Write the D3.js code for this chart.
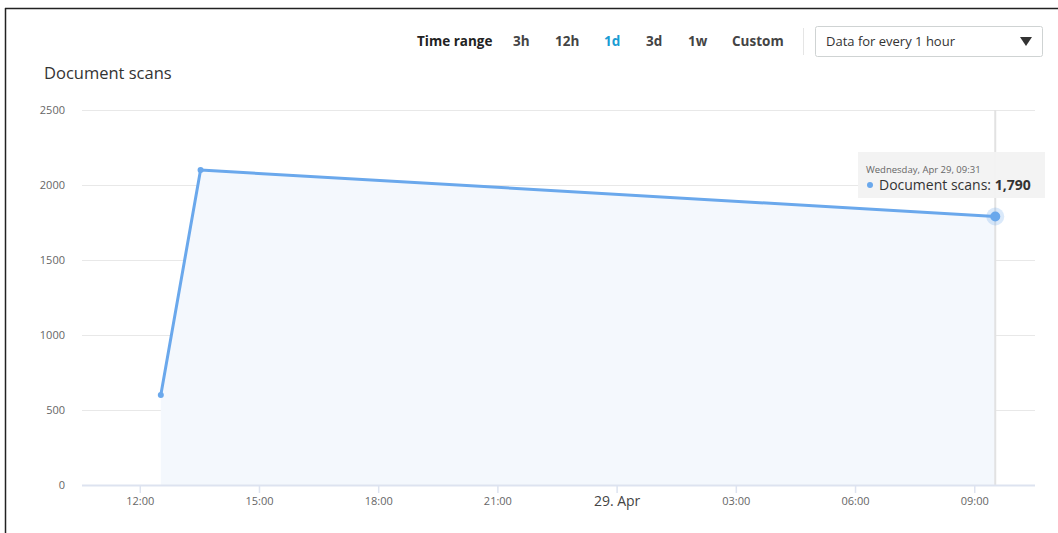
<!DOCTYPE html>
<html>
<head>
<meta charset="utf-8">
<script src="https://cdn.jsdelivr.net/npm/d3@7"></script>
<style>
  html, body { margin: 0; padding: 0; background: #fff; }
  svg { display: block; font-family: "Open Sans", "Noto Sans", sans-serif; }
</style>
</head>
<body>
<svg id="chart" width="1058" height="533"></svg>
<script>
// ---- data ----
const times = ["2020-04-28T12:31", "2020-04-28T13:31", "2020-04-29T09:31"];
const scans = [600, 2100, 1790];
const yTicks = [0, 500, 1000, 1500, 2000, 2500];
const xTickTimes = ["2020-04-28T12:00", "2020-04-28T15:00", "2020-04-28T18:00", "2020-04-28T21:00",
                    "2020-04-29T00:00", "2020-04-29T03:00", "2020-04-29T06:00", "2020-04-29T09:00"];
const xTickLabels = ["12:00", "15:00", "18:00", "21:00", "29. Apr", "03:00", "06:00", "09:00"];
const rangeOptions = ["3h", "12h", "1d", "3d", "1w", "Custom"];
const selectedRange = "1d";
const chartTitle = "Document scans";
const tooltipDate = "Wednesday, Apr 29, 09:31";
const seriesName = "Document scans";

const parse = d3.timeParse("%Y-%m-%dT%H:%M");
const data = times.map((t, i) => ({ t: parse(t), v: scans[i] }));

const svg = d3.select("#chart");

// frame border
svg.append("line").attr("x1", 5).attr("x2", 1058).attr("y1", 8.5).attr("y2", 8.5)
  .attr("stroke", "#222").attr("stroke-width", 1.5);
svg.append("line").attr("x1", 5.5).attr("x2", 5.5).attr("y1", 8).attr("y2", 533)
  .attr("stroke", "#222").attr("stroke-width", 1.5);

// scales
const x = d3.scaleTime()
  .domain([parse("2020-04-28T10:32"), parse("2020-04-29T10:31")])
  .range([82, 1035]);
const y = d3.scaleLinear().domain([0, 2500]).range([485, 110]);

// gridlines
svg.append("g").selectAll("line").data(yTicks.filter(d => d > 0)).join("line")
  .attr("x1", 82).attr("x2", 1035)
  .attr("y1", d => y(d) + 0.5).attr("y2", d => y(d) + 0.5)
  .attr("stroke", "#e8e8e8").attr("stroke-width", 1);

// y labels
svg.append("g").selectAll("text").data(yTicks).join("text")
  .attr("x", 65).attr("y", d => y(d) + 4)
  .attr("text-anchor", "end").attr("font-size", 11).attr("fill", "#666")
  .text(d => d);

// area
const area = d3.area().x(d => x(d.t)).y0(y(0)).y1(d => y(d.v));
svg.append("path").datum(data).attr("d", area).attr("fill", "#f4f8fd");

// crosshair
const last = data[data.length - 1];
svg.append("line").attr("x1", x(last.t)).attr("x2", x(last.t))
  .attr("y1", 110).attr("y2", y(0))
  .attr("stroke", "#e2e2e2").attr("stroke-width", 2);

// x axis
const xAxis = svg.append("g").attr("transform", `translate(0,${y(0)})`);
xAxis.append("line").attr("x1", 82).attr("x2", 1035).attr("y1", 0.5).attr("y2", 0.5)
  .attr("stroke", "#dde3f0").attr("stroke-width", 2);
const xt = xTickTimes.map((t, i) => ({ t: parse(t), label: xTickLabels[i] }));
xAxis.selectAll("line.tick").data(xt).join("line").attr("class", "tick")
  .attr("x1", d => x(d.t)).attr("x2", d => x(d.t)).attr("y1", 0).attr("y2", 8)
  .attr("stroke", "#dde3f0").attr("stroke-width", 1.5);
xAxis.selectAll("text").data(xt).join("text")
  .attr("x", d => x(d.t)).attr("y", d => d.label.includes("Apr") ? 21 : 20)
  .attr("text-anchor", "middle")
  .attr("font-size", d => d.label.includes("Apr") ? 14 : 11)
  .attr("fill", d => d.label.includes("Apr") ? "#444" : "#666")
  .text(d => d.label);

// line
const line = d3.line().x(d => x(d.t)).y(d => y(d.v));
svg.append("path").datum(data).attr("d", line)
  .attr("fill", "none").attr("stroke", "#6aa8ec").attr("stroke-width", 3)
  .attr("stroke-linejoin", "round");
svg.append("g").selectAll("circle").data(data.slice(0, -1)).join("circle")
  .attr("cx", d => x(d.t)).attr("cy", d => y(d.v)).attr("r", 3).attr("fill", "#6aa8ec");
svg.append("circle").attr("cx", x(last.t)).attr("cy", y(last.v)).attr("r", 9)
  .attr("fill", "#6aa8ec").attr("fill-opacity", 0.25);
svg.append("circle").attr("cx", x(last.t)).attr("cy", y(last.v)).attr("r", 5)
  .attr("fill", "#6aa8ec");

// tooltip
const tt = svg.append("g");
tt.append("rect").attr("x", 858).attr("y", 152).attr("width", 187).attr("height", 46)
  .attr("fill", "#f2f2f2").attr("fill-opacity", 0.95);
tt.append("text").attr("x", 866).attr("y", 173).attr("font-size", 9.5).attr("fill", "#666")
  .text(tooltipDate);
tt.append("circle").attr("cx", 870).attr("cy", 185).attr("r", 3).attr("fill", "#6aa8ec");
const t2 = tt.append("text").attr("x", 879).attr("y", 190).attr("font-size", 14).attr("fill", "#333");
t2.append("tspan").text(seriesName + ": ");
t2.append("tspan").attr("font-weight", "bold").text(d3.format(",")(last.v));

// title
svg.append("text").attr("x", 44).attr("y", 79).attr("font-size", 16.5).attr("fill", "#333")
  .text(chartTitle);

// controls
const ctrl = svg.append("g").attr("font-size", 13.5).attr("font-weight", "bold");
ctrl.append("text").attr("x", 417).attr("y", 46).attr("fill", "#222").text("Time range");
const optX = [513, 555, 604, 646, 688, 732];
ctrl.selectAll("text.opt").data(rangeOptions).join("text").attr("class", "opt")
  .attr("x", (d, i) => optX[i]).attr("y", 46)
  .attr("fill", d => d === selectedRange ? "#1a9cd3" : "#444")
  .text(d => d);
svg.append("line").attr("x1", 803.5).attr("x2", 803.5).attr("y1", 28).attr("y2", 55)
  .attr("stroke", "#e5e5e5");
svg.append("rect").attr("x", 815.5).attr("y", 26.5).attr("width", 227).attr("height", 30)
  .attr("rx", 2).attr("fill", "#fff").attr("stroke", "#cfd3d3");
svg.append("text").attr("x", 826).attr("y", 46).attr("font-size", 13).attr("fill", "#333")
  .text("Data for every 1 hour");
svg.append("path").attr("d", "M1020,37 L1032,37 L1026,46 Z").attr("fill", "#333");
</script>
</body>
</html>
